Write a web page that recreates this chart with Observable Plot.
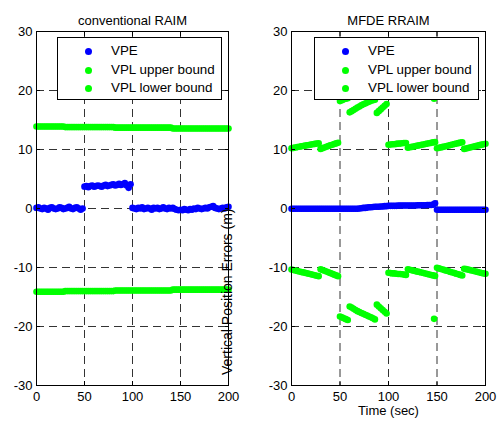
<!DOCTYPE html>
<html>
<head>
<meta charset="utf-8">
<script src="https://cdn.jsdelivr.net/npm/d3@7"></script>
<script src="https://cdn.jsdelivr.net/npm/@observablehq/plot@0.6"></script>
<style>
  html, body { margin: 0; padding: 0; background: white; }
  #chart { position: relative; width: 503px; height: 425px; overflow: hidden; font-family: "Liberation Sans", Arial, sans-serif; }
  .panel { position: absolute; top: 0; }
  .legend { position: absolute; box-sizing: border-box; width: 165px; height: 63px; border: 1px solid black; background: white; font-size: 13.4px; color: black; }
  .legend .row { position: absolute; left: 0; height: 18px; line-height: 18px; white-space: nowrap; }
  .legend .sw { position: absolute; left: 27px; top: 5.5px; width: 7px; height: 7px; border-radius: 50%; }
  .legend .lab { position: absolute; left: 53px; top: 0; }
</style>
</head>
<body>
<div id="chart"></div>
<script>
// ---------------- data ----------------
const time = d3.range(0, 201, 2); // sample times (sec)

const xTicks = [0, 50, 100, 150, 200];
const yTicks = [-30, -20, -10, 0, 10, 20, 30];
const xGridValues = [50, 100, 150];
const yGridValues = [-20, -10, 0, 10, 20];

const titles = ["conventional RAIM", "MFDE RRAIM"];
const seriesNames = ["VPE", "VPL upper bound", "VPL lower bound"];
const xLabel = "Time (sec)";
const yLabel = "Vertical Position Errors (m)";

// conventional RAIM
const convVPE = [
  0.1, 0.2, 0.0, -0.1, 0.1, 0.0, -0.2, 0.1, 0.2, 0.0, -0.1, 0.0, 0.2, 0.1, -0.1, 0.0, 0.1, 0.3, 0.0, -0.1, 0.1, 0.2, 0.0, -0.2, 0.0,
  3.7, 3.8, 3.6, 3.8, 3.9, 3.7, 3.8, 3.9, 3.8, 3.7, 3.9, 4.0, 3.8, 3.9, 4.0, 4.1, 3.9, 4.0, 4.2, 4.0, 4.1, 4.3, 3.9, 3.5, 4.1,
  0.1, 0.0, -0.1, 0.1, 0.0, 0.2, -0.1, 0.0, 0.1, 0.0,
  -0.2, 0.1, 0.0, 0.1, -0.1, 0.0, 0.2, 0.0, -0.1, 0.1,
  0.0, 0.1, -0.1, -0.2, -0.3, -0.2, -0.3, -0.1, -0.2, -0.3,
  -0.1, -0.2, 0.0, -0.1, 0.1, 0.0, -0.1, 0.0, 0.1, 0.0,
  0.2, 0.3, 0.4, 0.1, 0.0, -0.1, 0.0, 0.1, 0.0, 0.2,
  0.3
];
const convUpper = [
  13.9, 13.9, 13.9, 13.9, 13.9, 13.9, 13.9, 13.9, 13.9, 13.9, 13.9, 13.9, 13.9, 13.9, 13.9,
  13.8, 13.8, 13.8, 13.8, 13.8, 13.8, 13.8, 13.8, 13.8, 13.8, 13.8, 13.8, 13.8,
  13.8, 13.8, 13.8, 13.8, 13.8, 13.8, 13.8, 13.8, 13.8, 13.8, 13.8, 13.8, 13.8,
  13.7, 13.7, 13.7, 13.7, 13.7, 13.7, 13.7, 13.7, 13.7, 13.7, 13.7, 13.7, 13.7, 13.7, 13.7,
  13.7, 13.7, 13.7, 13.7, 13.7, 13.7, 13.7, 13.7, 13.7, 13.7, 13.7, 13.7, 13.7, 13.7, 13.7,
  13.55, 13.55, 13.55, 13.55, 13.55, 13.55, 13.55, 13.55, 13.55, 13.55, 13.55, 13.55, 13.55, 13.55, 13.55,
  13.55, 13.55, 13.55, 13.55, 13.55, 13.55, 13.55, 13.55, 13.55, 13.55, 13.55, 13.55, 13.55, 13.55, 13.55
];
const convLower = [
  -14.1, -14.1, -14.1, -14.1, -14.1, -14.1, -14.1, -14.1, -14.1, -14.1, -14.1, -14.1, -14.1, -14.1, -14.1,
  -14.0, -14.0, -14.0, -14.0, -14.0, -14.0, -14.0, -14.0, -14.0, -14.0, -14.0, -14.0, -14.0,
  -14.0, -14.0, -14.0, -14.0, -14.0, -14.0, -14.0, -14.0, -14.0, -14.0, -14.0, -14.0, -14.0,
  -13.9, -13.9, -13.9, -13.9, -13.9, -13.9, -13.9, -13.9, -13.9, -13.9, -13.9, -13.9, -13.9, -13.9, -13.9,
  -13.9, -13.9, -13.9, -13.9, -13.9, -13.9, -13.9, -13.9, -13.9, -13.9, -13.9, -13.9, -13.9, -13.9, -13.9,
  -13.75, -13.75, -13.75, -13.75, -13.75, -13.75, -13.75, -13.75, -13.75, -13.75, -13.75, -13.75, -13.75, -13.75, -13.75,
  -13.75, -13.75, -13.75, -13.75, -13.75, -13.75, -13.75, -13.75, -13.75, -13.75, -13.75, -13.75, -13.75, -13.75, -13.75
];

// MFDE RRAIM
const mfdeVPE = [
  -0.05, -0.05, -0.05, -0.05, -0.05, -0.05, -0.05, -0.05, -0.05, -0.05, -0.05, -0.05, -0.05, -0.05, -0.05, -0.05, -0.05, -0.05,
  -0.05, -0.05, -0.05, -0.05, -0.05, -0.05, -0.05, -0.05, -0.05, -0.05, -0.05, -0.05, -0.05, -0.05, -0.05, -0.05, -0.05,
  0.0, 0.05, 0.1, 0.1, 0.15, 0.2, 0.2, 0.25, 0.3, 0.3, 0.3, 0.35, 0.35, 0.4, 0.4,
  0.45, 0.45, 0.45, 0.45, 0.45, 0.5, 0.5, 0.5, 0.5, 0.5, 0.5, 0.5, 0.5, 0.5, 0.5, 0.55, 0.55, 0.55, 0.55, 0.55, 0.6, 0.6, 0.6, 0.65, 0.9,
  -0.2, -0.2, -0.2, -0.2, -0.2, -0.2, -0.2, -0.2, -0.2, -0.2, -0.2, -0.2, -0.2,
  -0.2, -0.2, -0.2, -0.2, -0.2, -0.2, -0.2, -0.2, -0.2, -0.2, -0.2, -0.2, -0.2
];
const mfdeUpper = [
  10.2, 10.27, 10.34, 10.41, 10.47, 10.53, 10.59, 10.65, 10.71, 10.77, 10.83, 10.89, 10.95, 11.0, 11.05,
  10.1, 10.23, 10.35, 10.47, 10.59, 10.7, 10.81, 10.92, 11.03, 11.15,
  18.2, 18.35, 18.5, 18.6, 18.7,
  16.3, 16.5, 16.7, 16.9, 17.1, 17.3, 17.5, 17.65, 17.8, 17.95, 18.1, 18.25, 18.35, 18.45,
  16.2, 16.5, 16.8, 17.1, 17.4, 17.7,
  10.8, 10.85, 10.9, 10.9, 10.95, 11.0, 11.0, 11.05, 11.1, 11.1,
  10.3, 10.37, 10.44, 10.51, 10.58, 10.65, 10.72, 10.79, 10.86, 10.93, 11.0, 11.07, 11.13, 11.2, 11.25,
  10.2, 10.28, 10.36, 10.44, 10.52, 10.6, 10.68, 10.76, 10.84, 10.92, 11.0, 11.08, 11.16, 11.24,
  10.1, 10.18, 10.26, 10.34, 10.42, 10.5, 10.58, 10.66, 10.74, 10.82, 10.9, 10.98
];
const mfdeLower = [
  -10.35, -10.43, -10.51, -10.59, -10.67, -10.75, -10.83, -10.91, -10.99, -11.07, -11.15, -11.23, -11.31, -11.39, -11.47,
  -10.3, -10.43, -10.56, -10.69, -10.82, -10.95, -11.08, -11.21, -11.34, -11.47,
  -18.3, -18.45, -18.6, -18.75, -18.9,
  -16.6, -16.8, -17.0, -17.2, -17.4, -17.55, -17.7, -17.85, -18.0, -18.15, -18.3, -18.45, -18.6, -18.8,
  -16.3, -16.6, -16.9, -17.2, -17.5, -17.8,
  -10.9, -10.95, -11.0, -11.0, -11.05, -11.1, -11.1, -11.15, -11.2, -11.25,
  -10.3, -10.38, -10.46, -10.54, -10.62, -10.7, -10.78, -10.86, -10.94, -11.02, -11.1, -11.18, -11.26, -11.34, -11.42,
  -10.05, -10.15, -10.25, -10.35, -10.45, -10.55, -10.65, -10.75, -10.85, -10.95, -11.05, -11.15, -11.25, -11.35,
  -10.2, -10.28, -10.36, -10.44, -10.52, -10.6, -10.68, -10.76, -10.84, -10.92, -11.0, -11.08
];
const mfdeOutlierTime = [147];
const mfdeOutlierUpper = [18.6];
const mfdeOutlierLower = [-18.7];

const colors = ["#0000ff", "#00ff00", "#00ff00"];

// ---------------- drawing ----------------
const rows = (ts, vs) => vs.map((v, i) => ({t: ts[i], v}));
const fmt = d => String(d);
const dotR = 3.3;
const gridStyle = {stroke: "#333", strokeOpacity: 1, strokeWidth: 1, strokeDasharray: "8,5"};

function panel({series, title, width, marginLeft, marginRight, extraMarks = []}) {
  return Plot.plot({
    width, height: 425,
    marginLeft, marginRight, marginTop: 31, marginBottom: 40,
    style: {fontFamily: '"Liberation Sans", Arial, sans-serif', fontSize: "13px", background: "white", overflow: "visible", color: "black"},
    x: {domain: [0, 200], label: null},
    y: {domain: [-30, 30], label: null},
    marks: [
      Plot.gridY(yGridValues, gridStyle),
      Plot.gridX(xGridValues, gridStyle),
      ...series.map((s, k) => Plot.dot(rows(time, s), {x: "t", y: "v", r: dotR, fill: colors[k], stroke: null})),
      ...extraMarks,
      Plot.frame({stroke: "black"}),
      Plot.axisY(yTicks, {anchor: "left", tickSize: -4, tickPadding: 8, tickFormat: fmt, label: null, fontSize: 13}),
      Plot.axisY(yTicks, {anchor: "right", tickSize: -4, tickFormat: () => "", label: null}),
      Plot.axisX(xTicks, {anchor: "bottom", tickSize: -4, tickPadding: 10, tickFormat: fmt, label: null, fontSize: 13}),
      Plot.axisX(xTicks, {anchor: "top", tickSize: -4, tickFormat: () => "", label: null}),
      Plot.text([title], {frameAnchor: "top", dy: -16, fontSize: 13, fill: "black"})
    ]
  });
}

const chart = document.getElementById("chart");

const left = panel({
  series: [convVPE, convUpper, convLower],
  title: titles[0], width: 250, marginLeft: 36, marginRight: 22,
  extraMarks: []
});
const right = panel({
  series: [mfdeVPE, mfdeUpper, mfdeLower],
  title: titles[1], width: 253, marginLeft: 41, marginRight: 18,
  extraMarks: [
    Plot.dot(rows(mfdeOutlierTime, mfdeOutlierUpper), {x: "t", y: "v", r: dotR, fill: colors[1]}),
    Plot.dot(rows(mfdeOutlierTime, mfdeOutlierLower), {x: "t", y: "v", r: dotR, fill: colors[2]}),
    Plot.text([xLabel], {frameAnchor: "bottom", dy: 29, fontSize: 13, fill: "black"})
  ]
});

// y label (drawn by MATLAB at the right subplot's ylabel spot, overlapping left panel)
const yLab = Plot.text; // placeholder to keep API usage
const leftWrap = document.createElement("div");
leftWrap.className = "panel"; leftWrap.style.left = "0px";
leftWrap.appendChild(left);
const rightWrap = document.createElement("div");
rightWrap.className = "panel"; rightWrap.style.left = "250px";
rightWrap.appendChild(right);
chart.appendChild(leftWrap);
chart.appendChild(rightWrap);

// overlay svg for the y label, via Plot
const yLabelPlot = Plot.plot({
  width: 250, height: 425, marginLeft: 36, marginRight: 22, marginTop: 31, marginBottom: 40,
  style: {fontFamily: '"Liberation Sans", Arial, sans-serif', background: "transparent", overflow: "visible"},
  x: {domain: [0, 200], axis: null}, y: {domain: [-30, 30], axis: null},
  marks: [Plot.text([yLabel], {frameAnchor: "right", rotate: -90, dx: -1, dy: 0, fontSize: 14, fill: "black"})]
});
const yWrap = document.createElement("div");
yWrap.className = "panel"; yWrap.style.left = "0px"; yWrap.style.pointerEvents = "none";
yWrap.appendChild(yLabelPlot);
chart.appendChild(yWrap);

// legends
function legend(leftPx) {
  const box = document.createElement("div");
  box.className = "legend";
  box.style.left = leftPx + "px";
  box.style.top = "37px";
  const rowTops = [4, 23, 41];
  seriesNames.forEach((name, k) => {
    const row = document.createElement("div");
    row.className = "row";
    row.style.top = rowTops[k] + "px";
    const sw = document.createElement("div");
    sw.className = "sw"; sw.style.background = colors[k];
    const lab = document.createElement("div");
    lab.className = "lab"; lab.textContent = name;
    row.appendChild(sw); row.appendChild(lab);
    box.appendChild(row);
  });
  chart.appendChild(box);
}
legend(57);
legend(314);
</script>
</body>
</html>
